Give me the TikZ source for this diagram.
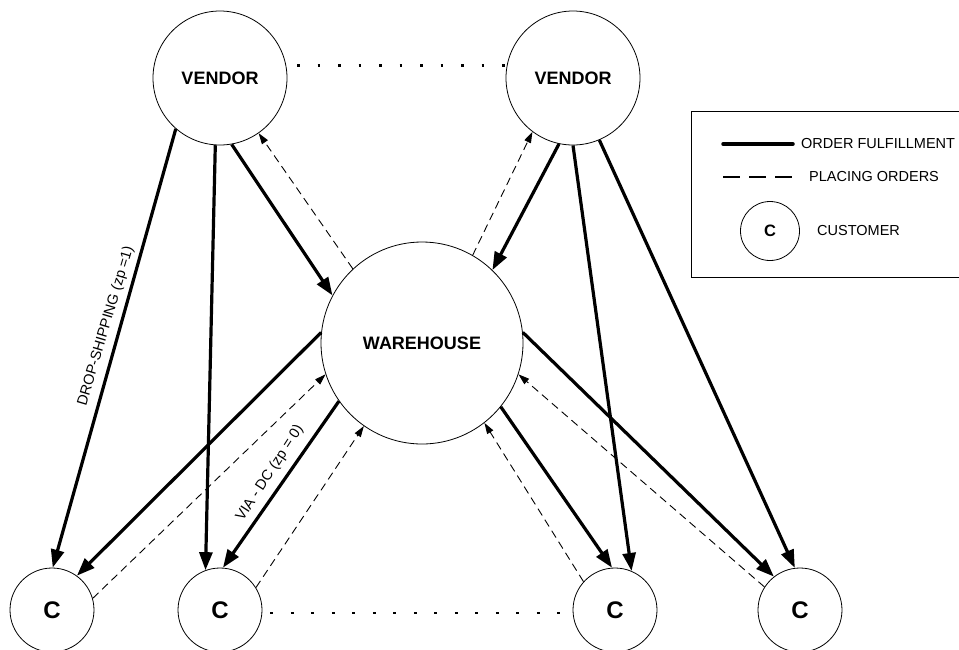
\documentclass[tikz,border=0pt]{standalone}
\usepackage{fontspec}
\setmainfont{Liberation Sans}
\usetikzlibrary{arrows.meta}

\begin{document}
\begin{tikzpicture}[x=1pt,y=-1pt,
  hub/.style={circle,draw,line width=0.8pt,inner sep=0pt,font=\fontsize{18}{20}\selectfont\bfseries},
  vendor/.style={hub,minimum size=134pt},
  depot/.style={hub,minimum size=202pt},
  cust/.style={circle,draw,line width=0.8pt,inner sep=0pt,minimum size=84pt,font=\fontsize{24}{26}\selectfont\bfseries},
  ship/.style={line width=3.2pt,-{Triangle[length=18pt,width=13pt]}},
  order/.style={line width=0.9pt,dash pattern=on 8pt off 5pt,-{Triangle[length=11pt,width=7pt]}},
  dots/.style={line width=2.8pt,dash pattern=on 2.8pt off 17.7pt},
  lbl/.style={font=\fontsize{14.5}{16}\selectfont,inner sep=0pt},
  legtext/.style={lbl,anchor=west}
]
\useasboundingbox (0,0) rectangle (959,649);

% supply chain nodes
\node[vendor] (vl) at (220,78) {VENDOR};
\node[vendor] (vr) at (573,78) {VENDOR};
\node[depot]  (wh) at (422,343) {WAREHOUSE};
\node[cust] (c1) at (52,610) {C};
\node[cust] (c2) at (220,610) {C};
\node[cust] (c3) at (615,610) {C};
\node[cust] (c4) at (800,610) {C};

% "and so on" dots between the vendors and between the customers
\draw[dots,shorten <=11pt,shorten >=2pt] (vl.11) -- (vr.169);
\draw[dots,shorten <=8pt,shorten >=8pt] (c2.-4) -- (c3.184);

% flows out of the left vendor
\draw[ship] (vl.-131) -- (c1.89);
\draw[ship] (vl.-94) -- (c2.110);
\draw[ship] (vl.-80) -- (wh.152);
\draw[order] (wh.133) -- (vl.-55);

% flows out of the right vendor
\draw[ship] (vr.-102) -- (wh.46);
\draw[order] (wh.60) -- (vr.-127);
\draw[ship] (vr.-90) -- (c3.67);
\draw[ship] (vr.-67) -- (c4.97);

% warehouse deliveries and customer orders
\draw[ship] (wh.174) -- (c1.54);
\draw[order] (c1.16) -- (wh.198);
\draw[ship] (wh.215) -- (c2.86);
\draw[order] (c2.32) -- (wh.235);
\draw[ship] (wh.-39) -- (c3.94);
\draw[order] (c3.138) -- (wh.-52);
\draw[ship] (wh.6) -- (c4.128);
\draw[order] (c4.147) -- (wh.-18);

% path labels
\node[lbl,rotate=73.5] (dslabel) at (106,326) {DROP-SHIPPING (zp =1)};
\node[lbl,rotate=57] (dclabel) at (270,473) {VIA - DC (zp = 0)};

% legend
\node[draw,line width=0.8pt,inner sep=0pt,minimum width=280pt,minimum height=166pt,anchor=north west] (legend) at (691,111) {};
\coordinate (sa) at (723,144);
\coordinate (sb) at (793,144);
\draw[line width=3.5pt,line cap=round] (sa) -- (sb);
\node[legtext] (lship) at (801,144) {ORDER FULFILLMENT};
\coordinate (da) at (723,177);
\coordinate (db) at (792,177);
\draw[line width=2pt,dash pattern=on 17pt off 9pt] (da) -- (db);
\node[legtext] (lorder) at (809,177) {PLACING ORDERS};
\node[circle,draw,line width=0.8pt,inner sep=0pt,minimum size=59pt,font=\fontsize{16.5}{18}\selectfont\bfseries] (lc) at (770,231) {C};
\node[legtext] (lcust) at (817,231) {CUSTOMER};
\end{tikzpicture}
\end{document}
